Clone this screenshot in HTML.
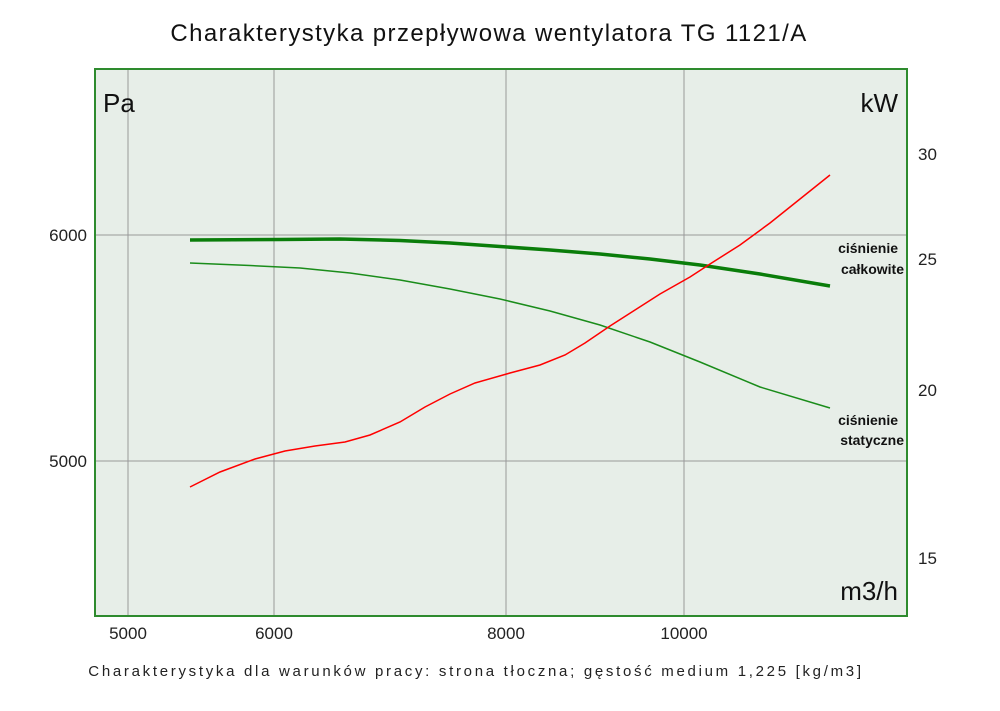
<!DOCTYPE html>
<html><head><meta charset="utf-8"><style>
body{margin:0;background:#fff;}
svg text{font-family:"Liberation Sans","DejaVu Sans",sans-serif;}
</style></head><body>
<svg width="1000" height="706" viewBox="0 0 1000 706" xmlns="http://www.w3.org/2000/svg">
<rect width="1000" height="706" fill="#fff"/>
<text x="489" y="41" font-size="24" text-anchor="middle" fill="#111" letter-spacing="1.4">Charakterystyka przepływowa wentylatora TG 1121/A</text>
<rect x="95" y="69" width="812" height="547" fill="#e7eee8"/>
<g stroke="#999" stroke-width="1">
<line x1="128" y1="69" x2="128" y2="616"/>
<line x1="274" y1="69" x2="274" y2="616"/>
<line x1="506" y1="69" x2="506" y2="616"/>
<line x1="684" y1="69" x2="684" y2="616"/>
<line x1="95" y1="235" x2="907" y2="235"/>
<line x1="95" y1="461" x2="907" y2="461"/>
</g>
<rect x="95" y="69" width="812" height="547" fill="none" stroke="#2e8b2e" stroke-width="2"/>
<text x="103" y="112" font-size="26" fill="#111">Pa</text>
<text x="898" y="112" font-size="26" fill="#111" text-anchor="end">kW</text>
<text x="898" y="600" font-size="26" fill="#111" text-anchor="end">m3/h</text>
<g font-size="17" fill="#222">
<text x="87" y="241" text-anchor="end">6000</text>
<text x="87" y="467" text-anchor="end">5000</text>
<text x="918" y="160">30</text>
<text x="918" y="265">25</text>
<text x="918" y="396">20</text>
<text x="918" y="564">15</text>
<text x="128" y="639" text-anchor="middle">5000</text>
<text x="274" y="639" text-anchor="middle">6000</text>
<text x="506" y="639" text-anchor="middle">8000</text>
<text x="684" y="639" text-anchor="middle">10000</text>
</g>
<g font-size="14" fill="#111" font-weight="bold" text-anchor="end">
<text x="898" y="253">ciśnienie</text>
<text x="904" y="274">całkowite</text>
<text x="898" y="425">ciśnienie</text>
<text x="904" y="445">statyczne</text>
</g>
<polyline fill="none" stroke="#0a7d0a" stroke-width="3.5" points="190,240 280,239.5 340,239 400,240.5 450,243 500,246.5 550,250 600,254 650,259 700,265 760,274 830,286"/>
<polyline fill="none" stroke="#1a8c1a" stroke-width="1.5" points="190,263 250,265.5 300,268 350,273 400,280 450,289 500,299 550,311 600,325 650,342 700,362 760,387 830,408"/>
<polyline fill="none" stroke="#f00" stroke-width="1.5" points="190,487 220,472 255,459 285,451 315,446 345,442 370,435 400,422 425,407 450,394 475,383 510,373 540,365 565,355 585,343 610,326 635,310 660,294 690,277 710,264 740,245 770,223 800,199 830,175"/>
<text x="476" y="676" font-size="15" fill="#222" text-anchor="middle" letter-spacing="2.7">Charakterystyka dla warunków pracy: strona tłoczna; gęstość medium 1,225 [kg/m3]</text>
</svg>
</body></html>
